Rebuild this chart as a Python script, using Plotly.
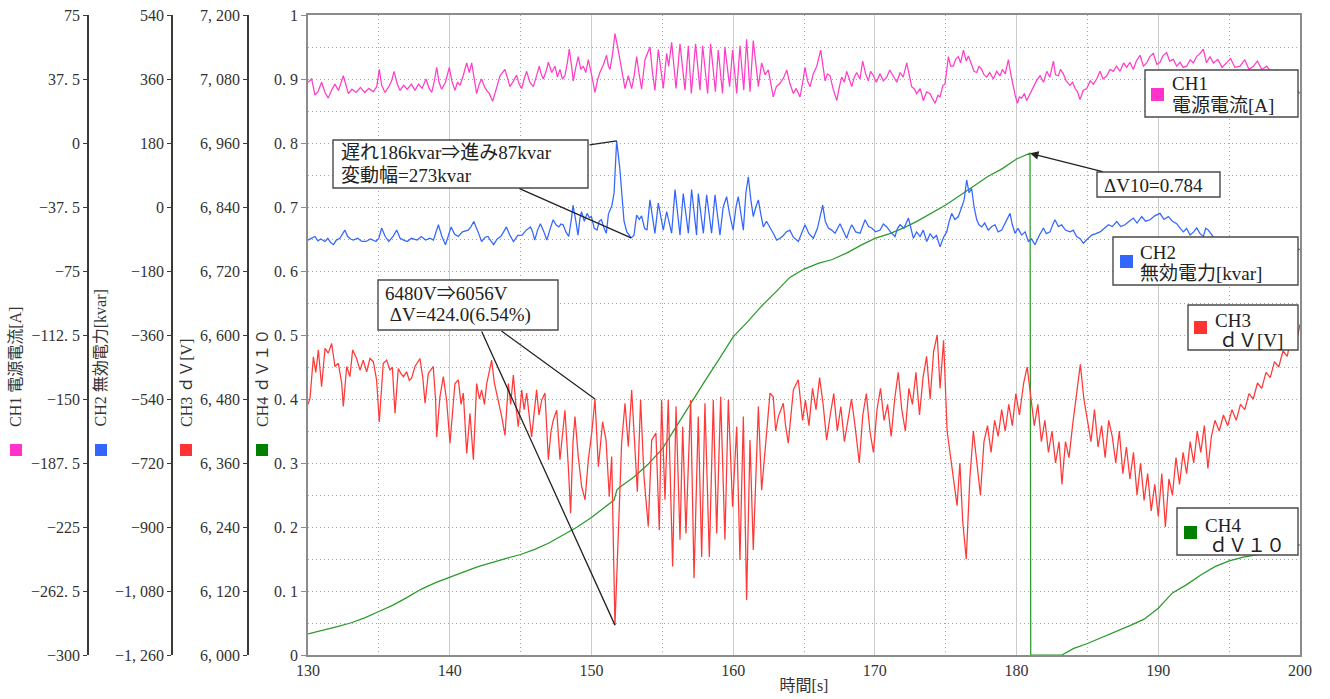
import plotly.graph_objects as go

# ---------------- data ----------------
# CH1 電源電流 [A]  (time s, value)
ch1 = [
(130.0,35.6),(130.26,37.5),(130.49,28.1),(130.7,30.0),(130.96,35.6),(131.2,29.6),(131.43,26.3),(131.65,30.8),
(131.9,34.5),(132.15,30.8),(132.49,39.4),(132.7,33.0),(132.85,28.9),(133.1,31.5),(133.4,29.6),(133.7,32.6),
(134.0,29.6),(134.3,32.0),(134.6,30.0),(134.85,33.0),(135.03,43.1),(135.2,33.8),(135.43,29.6),(135.7,33.0),
(135.9,36.4),(136.07,42.0),(136.3,34.5),(136.49,30.8),(136.75,33.8),(137.0,31.5),(137.3,34.5),(137.55,30.8),
(137.8,34.5),(138.05,32.0),(138.33,37.5),(138.55,32.0),(138.73,29.6),(138.9,35.6),(139.08,44.3),(139.25,35.6),
(139.43,31.5),(139.7,35.6),(139.97,44.3),(140.15,36.4),(140.37,30.8),(140.55,35.6),(140.73,33.8),(140.95,39.4),
(141.2,46.9),(141.38,41.3),(141.55,46.9),(141.9,28.9),(142.08,34.5),(142.25,37.5),(142.45,33.0),(142.61,30.8),
(142.8,28.9),(143.03,24.4),(143.3,33.0),(143.55,39.4),(143.9,43.1),(144.1,37.5),(144.25,33.0),(144.5,36.4),
(144.72,39.8),(144.9,34.5),(145.08,31.9),(145.25,37.5),(145.43,42.0),(145.65,35.6),(145.9,33.0),(146.1,38.6),
(146.32,45.0),(146.45,40.5),(146.6,37.5),(146.8,42.0),(146.96,47.3),(147.2,41.3),(147.43,45.0),(147.6,38.6),
(147.78,43.1),(147.95,37.5),(148.13,39.4),(148.3,47.0),(148.44,55.1),(148.6,45.0),(148.72,36.4),(148.9,44.3),
(149.07,50.6),(149.25,43.1),(149.43,45.0),(149.6,41.3),(149.78,48.8),(150.0,40.5),(150.25,29.6),(150.45,37.5),
(150.6,41.3),(150.85,46.0),(151.07,51.4),(151.2,45.0),(151.31,43.1),(151.5,52.5),(151.66,64.1),(151.85,56.3),
(152.01,48.8),(152.2,40.5),(152.37,31.9),(152.6,39.4),(152.84,31.9),(153.0,38.6),(153.19,50.6),(153.35,41.3),
(153.54,31.5),(153.78,48.8),(154.13,56.3),(154.3,42.0),(154.48,30.8),(154.72,54.8),(154.9,41.3),(155.07,32.0),
(155.31,52.5),(155.45,45.0),(155.66,59.0),(155.97,32.0),(156.25,58.1),(156.6,31.0),(156.84,57.0),(157.05,29.0),
(157.35,58.1),(157.66,31.0),(157.85,57.0),(158.2,29.0),(158.41,58.1),(158.75,30.0),(158.95,54.4),(159.25,29.0),
(159.42,56.3),(159.75,33.0),(159.96,54.4),(160.25,29.0),(160.48,57.0),(160.75,31.0),(160.95,60.8),(161.19,30.0),
(161.42,60.0),(161.78,33.0),(162.01,46.9),(162.25,40.0),(162.48,42.8),(162.83,27.0),(163.05,33.0),(163.3,35.0),
(163.55,38.0),(163.78,42.8),(164.0,35.0),(164.25,29.0),(164.45,32.0),(164.72,27.0),(164.9,35.0),(165.07,44.3),
(165.25,36.4),(165.43,33.0),(165.65,40.5),(165.9,45.0),(166.18,54.4),(166.35,44.3),(166.49,36.4),(166.65,40.5),
(166.84,39.4),(167.05,31.9),(167.31,24.8),(167.5,33.0),(167.66,38.6),(167.85,35.6),(168.01,42.0),(168.2,37.5),
(168.37,33.0),(168.55,38.6),(168.72,41.3),(168.95,37.5),(169.14,48.0),(169.35,40.5),(169.54,36.4),(169.7,42.0),
(169.9,39.4),(170.1,35.6),(170.37,40.5),(170.6,36.4),(170.84,38.6),(171.05,42.8),(171.31,39.4),(171.55,35.6),
(171.78,41.3),(172.0,38.6),(172.25,46.9),(172.45,37.5),(172.6,33.0),(172.8,31.5),(172.95,28.9),(173.2,31.9),
(173.42,24.8),(173.65,30.0),(173.89,28.9),(174.05,26.3),(174.25,23.3),(174.45,28.0),(174.6,27.0),(174.8,33.8),
(174.95,34.5),(175.19,50.6),(175.35,45.0),(175.54,45.0),(175.7,49.0),(175.89,50.6),(176.05,47.0),(176.25,54.4),
(176.45,48.0),(176.6,51.0),(176.83,46.0),(177.0,42.0),(177.19,41.3),(177.35,45.0),(177.54,43.1),(177.7,40.0),
(177.89,38.6),(178.1,41.3),(178.36,37.5),(178.6,42.0),(178.83,39.4),(179.0,43.1),(179.2,40.5),(179.42,48.8),
(179.6,40.0),(179.77,31.9),(179.9,28.0),(180.06,23.3),(180.2,27.0),(180.36,26.3),(180.55,29.0),(180.71,24.8),
(180.9,28.0),(181.19,31.9),(181.4,36.4),(181.66,39.4),(181.9,35.6),(182.13,42.0),(182.35,38.6),(182.6,48.0),
(182.75,40.0),(182.95,39.4),(183.1,43.1),(183.3,40.5),(183.5,36.4),(183.77,33.8),(183.95,35.6),(184.13,31.9),
(184.3,30.0),(184.48,25.5),(184.7,30.8),(184.95,31.9),(185.2,36.4),(185.42,34.5),(185.65,37.5),(185.89,42.0),
(186.1,37.5),(186.36,39.4),(186.6,43.1),(186.83,42.0),(187.05,45.0),(187.3,42.0),(187.55,46.9),(187.77,44.3),
(188.0,47.3),(188.24,43.1),(188.45,48.0),(188.71,51.4),(188.95,45.0),(189.18,46.9),(189.4,50.6),(189.65,52.5),
(189.9,46.0),(190.12,47.3),(190.35,51.4),(190.59,53.0),(190.8,48.0),(191.06,49.0),(191.3,45.0),(191.53,47.3),
(191.75,44.3),(192.0,45.0),(192.25,48.8),(192.47,46.9),(192.7,50.6),(192.95,52.5),(193.18,55.0),(193.4,47.0),
(193.65,50.6),(193.89,46.9),(194.2,49.0),(194.5,44.3),(194.83,46.9),(195.1,49.5),(195.4,44.3),(195.77,45.0),
(196.1,48.8),(196.4,43.1),(196.71,45.0),(197.0,48.0),(197.3,43.1),(197.65,45.0),(198.0,41.3),(198.4,42.8),
(198.8,38.6),(199.2,36.4),(199.6,33.0),(200.0,29.0),
]

# CH2 無効電力 [kvar]
ch2 = [
(130.0,-93),(130.2,-88),(130.49,-83),(130.7,-95),(130.9,-90),(131.2,-97),(131.4,-88),(131.6,-100),(131.8,-106),
(132.0,-93),(132.25,-88),(132.6,-65),(132.8,-83),(133.0,-90),(133.2,-93),(133.5,-88),(133.8,-97),(134.1,-97),
(134.4,-90),(134.8,-97),(135.0,-88),(135.2,-59),(135.45,-83),(135.7,-97),(136.0,-83),(136.26,-65),(136.5,-88),
(136.75,-93),(137.0,-97),(137.3,-88),(137.7,-93),(138.0,-83),(138.3,-93),(138.6,-88),(138.85,-93),(139.2,-50),
(139.45,-83),(139.7,-106),(139.9,-80),(140.1,-56),(140.35,-77),(140.6,-83),(140.9,-70),(141.3,-65),(141.5,-55),
(141.7,-41),(142.0,-70),(142.25,-97),(142.5,-85),(142.7,-83),(142.9,-95),(143.1,-106),(143.35,-90),(143.6,-83),
(143.8,-70),(144.0,-56),(144.25,-80),(144.5,-97),(144.8,-80),(145.1,-79),(145.4,-65),(145.7,-56),(145.85,-70),
(146.0,-93),(146.2,-65),(146.4,-47),(146.65,-70),(146.85,-93),(147.1,-60),(147.3,-36),(147.5,-50),(147.7,-56),
(147.85,-48),(148.0,-50),(148.2,-70),(148.4,-83),(148.6,-30),(148.7,5),(148.9,-40),(149.05,-79),(149.2,-30),
(149.3,-13),(149.5,-40),(149.7,-18),(149.85,-30),(150.0,-27),(150.2,-60),(150.4,-65),(150.55,-40),(150.7,-36),
(150.9,-60),(151.05,-74),(151.2,-20),(151.3,-9),(151.45,5),(151.6,40),(151.78,186),(152.0,110),(152.13,38),
(152.3,-40),(152.5,-70),(152.8,-87),(153.0,-80),(153.19,-23),(153.38,-35),(153.54,-25),(153.75,-60),(153.92,-65),
(154.13,20),(154.3,-20),(154.48,-74),(154.72,11),(154.9,-30),(155.07,-65),(155.31,-13),(155.5,-50),(155.66,-74),
(155.9,49),(156.1,-20),(156.25,-79),(156.48,38),(156.68,-20),(156.84,-74),(157.07,49),(157.25,-10),(157.42,-79),
(157.54,38),(157.7,-20),(157.9,-74),(158.13,34),(158.3,-20),(158.48,-74),(158.72,34),(158.9,-20),(159.07,-79),
(159.3,0),(159.54,29),(159.75,-20),(160.0,-65),(160.2,0),(160.36,29),(160.55,-20),(160.72,-65),(160.9,40),
(161.07,85),(161.25,20),(161.42,-27),(161.6,0),(161.78,20),(161.95,-20),(162.13,-56),(162.35,-40),(162.6,-56),
(162.85,-75),(163.07,-93),(163.31,-88),(163.54,-80),(163.75,-70),(164.0,-65),(164.25,-85),(164.6,-97),(164.85,-70),
(165.07,-50),(165.35,-75),(165.66,-88),(165.95,-60),(166.32,5),(166.5,-40),(166.72,-59),(166.95,-65),(167.19,-74),
(167.54,-47),(167.8,-70),(168.01,-88),(168.2,-65),(168.37,-50),(168.65,-70),(168.96,-74),(169.31,-36),(169.55,-55),
(169.78,-59),(170.05,-70),(170.37,-65),(170.6,-48),(170.84,-56),(171.1,-70),(171.42,-83),(171.6,-60),(171.78,-50),
(172.05,-60),(172.37,-31),(172.55,-60),(172.72,-88),(172.95,-70),(173.19,-83),(173.42,-65),(173.66,-97),(173.9,-75),
(174.13,-88),(174.35,-80),(174.6,-112),(174.85,-85),(175.07,-70),(175.25,-40),(175.42,-18),(175.65,-35),(175.89,-27),
(176.13,0),(176.3,20),(176.48,76),(176.65,40),(176.83,52),(177.0,0),(177.19,-36),(177.35,-50),(177.54,-56),
(177.75,-45),(178.0,-65),(178.25,-55),(178.48,-50),(178.7,-70),(178.95,-65),(179.25,-40),(179.54,-18),(179.7,-50),
(179.89,-74),(180.1,-60),(180.36,-79),(180.6,-70),(180.83,-97),(181.05,-90),(181.3,-106),(181.6,-80),(181.89,-59),
(182.1,-75),(182.36,-70),(182.55,-50),(182.71,-36),(182.95,-55),(183.18,-50),(183.45,-65),(183.77,-70),(184.0,-65),
(184.24,-83),(184.5,-90),(184.71,-102),(185.0,-90),(185.3,-79),(185.6,-75),(185.89,-70),(186.2,-60),(186.48,-50),
(186.75,-55),(187.07,-41),(187.35,-55),(187.65,-50),(187.95,-40),(188.24,-31),(188.5,-45),(188.83,-27),(189.1,-40),
(189.42,-36),(189.75,-25),(190.12,-18),(190.4,-35),(190.71,-27),(191.0,-40),(191.3,-47),(191.55,-60),(191.77,-70),
(192.0,-60),(192.24,-79),(192.5,-70),(192.71,-59),(192.95,-75),(193.18,-83),(193.35,-60),(193.53,-65),(193.9,-85),
(194.3,-95),(194.8,-88),(195.3,-100),(195.8,-92),(196.3,-104),(196.8,-95),(197.3,-100),(197.8,-92),(198.3,-102),
(198.8,-96),(199.3,-110),(200.0,-120),
]

# CH3 dV [V]
ch3 = [
(130.0,6470),(130.14,6481),(130.38,6559),(130.55,6530),(130.73,6572),(130.96,6503),(131.2,6575),(131.43,6566),
(131.67,6584),(131.9,6541),(132.14,6547),(132.38,6509),(132.49,6466),(132.73,6541),(132.96,6522),(133.15,6572),
(133.43,6556),(133.67,6534),(133.9,6553),(134.14,6531),(134.37,6556),(134.61,6550),(134.84,6516),(135.03,6437),
(135.31,6547),(135.55,6553),(135.79,6534),(135.95,6540),(136.14,6453),(136.37,6537),(136.55,6528),(136.73,6522),
(136.96,6531),(137.15,6515),(137.31,6519),(137.55,6541),(137.9,6556),(138.1,6520),(138.26,6472),(138.49,6528),
(138.84,6541),(139.0,6480),(139.08,6409),(139.31,6484),(139.55,6522),(139.78,6478),(140.02,6397),(140.2,6460),
(140.37,6509),(140.61,6516),(140.8,6470),(140.96,6491),(141.2,6378),(141.43,6453),(141.67,6366),(141.9,6509),
(142.1,6480),(142.25,6497),(142.45,6470),(142.61,6509),(142.96,6553),(143.15,6510),(143.31,6491),(143.5,6470),
(143.67,6447),(143.9,6412),(144.14,6509),(144.3,6470),(144.49,6525),(144.7,6460),(144.84,6428),(145.08,6497),
(145.25,6460),(145.43,6491),(145.6,6450),(145.78,6409),(146.13,6497),(146.3,6450),(146.49,6478),(146.72,6491),
(146.96,6366),(147.15,6420),(147.31,6441),(147.55,6459),(147.78,6366),(148.13,6459),(148.37,6353),(148.53,6266),
(148.7,6400),(148.84,6447),(149.07,6372),(149.31,6316),(149.55,6291),(149.78,6366),(150.02,6416),(150.25,6480),
(150.49,6353),(150.79,6437),(151.03,6403),(151.26,6297),(151.43,6372),(151.66,6056),(151.9,6228),(152.13,6397),
(152.37,6472),(152.6,6391),(152.84,6497),(153.07,6384),(153.24,6306),(153.47,6478),(153.71,6334),(154.01,6241),
(154.25,6403),(154.55,6416),(154.79,6234),(154.95,6478),(155.19,6291),(155.42,6478),(155.73,6166),(155.97,6466),
(156.25,6216),(156.44,6428),(156.67,6228),(157.0,6478),(157.24,6144),(157.54,6447),(157.78,6184),(158.01,6472),
(158.32,6184),(158.6,6478),(158.84,6228),(159.12,6484),(159.42,6216),(159.66,6478),(159.96,6278),(160.25,6428),
(160.48,6178),(160.72,6447),(160.95,6103),(161.19,6403),(161.42,6197),(161.78,6466),(162.01,6309),(162.36,6416),
(162.6,6491),(162.83,6484),(163.0,6420),(163.19,6447),(163.54,6472),(163.7,6430),(163.89,6397),(164.25,6497),
(164.6,6516),(164.9,6440),(165.1,6478),(165.35,6430),(165.6,6500),(165.85,6460),(166.1,6520),(166.35,6470),
(166.6,6403),(166.85,6450),(167.1,6490),(167.35,6420),(167.6,6466),(167.85,6400),(168.1,6440),(168.35,6480),
(168.6,6430),(168.9,6360),(169.15,6450),(169.4,6490),(169.65,6420),(169.9,6380),(170.15,6460),(170.4,6500),
(170.65,6440),(170.9,6470),(171.15,6410),(171.4,6480),(171.65,6530),(171.9,6460),(172.15,6420),(172.4,6500),
(172.65,6470),(172.9,6530),(173.15,6450),(173.4,6520),(173.65,6560),(173.9,6480),(174.15,6570),(174.4,6600),
(174.6,6500),(174.85,6590),(175.1,6420),(175.3,6380),(175.55,6340),(175.8,6280),(176.0,6360),(176.2,6250),
(176.45,6180),(176.7,6330),(176.95,6420),(177.2,6360),(177.45,6300),(177.7,6400),(177.95,6430),(178.2,6380),
(178.45,6440),(178.7,6410),(178.95,6460),(179.2,6420),(179.45,6470),(179.7,6430),(179.95,6490),(180.2,6450),
(180.5,6510),(180.75,6540),(181.0,6480),(181.25,6430),(181.5,6470),(181.75,6400),(182.0,6440),(182.25,6380),
(182.5,6420),(182.75,6360),(183.0,6400),(183.2,6320),(183.45,6400),(183.7,6370),(183.95,6430),(184.2,6480),
(184.5,6545),(184.75,6480),(185.0,6440),(185.25,6400),(185.5,6460),(185.75,6390),(186.0,6430),(186.25,6370),
(186.5,6440),(186.75,6410),(187.0,6360),(187.25,6420),(187.5,6340),(187.75,6390),(188.0,6330),(188.25,6380),
(188.5,6300),(188.75,6360),(189.0,6290),(189.25,6340),(189.5,6270),(189.75,6320),(190.0,6260),(190.25,6340),
(190.5,6240),(190.75,6330),(191.0,6300),(191.25,6370),(191.5,6320),(191.75,6380),(192.0,6340),(192.25,6400),
(192.5,6360),(192.75,6420),(193.0,6380),(193.25,6430),(193.5,6350),(193.75,6410),(194.0,6440),(194.3,6420),
(194.6,6450),(194.9,6430),(195.2,6460),(195.5,6440),(195.8,6470),(196.1,6460),(196.4,6490),(196.7,6480),
(197.0,6510),(197.3,6500),(197.6,6530),(197.9,6520),(198.2,6550),(198.5,6540),(198.8,6570),(199.1,6560),
(199.4,6600),(199.7,6580),(200.0,6620),
]

# CH4 dV10
ch4 = [
(130,0.033),(131,0.038),(132,0.044),(133,0.05),(134,0.058),(135,0.068),(136,0.078),(137,0.09),(138,0.103),
(139,0.113),(140,0.122),(141,0.13),(142,0.138),(143,0.145),(144,0.151),(145,0.157),(146,0.165),(147,0.175),
(148,0.187),(149,0.2),(150,0.215),(151,0.232),(151.6,0.242),(151.8,0.258),(152,0.262),(153,0.278),(154,0.298),
(155,0.322),(156,0.358),(157,0.393),(158,0.428),(159,0.462),(160,0.497),(161,0.52),(162,0.545),(163,0.567),
(164,0.59),(165,0.603),(166,0.612),(167,0.618),(168,0.628),(169,0.64),(170,0.651),(171,0.658),(172,0.667),
(173,0.678),(174,0.69),(175,0.703),(176,0.718),(177,0.733),(178,0.748),(179,0.76),(180,0.775),(180.95,0.784),
(181.0,0.0),(183.2,0.0),(184,0.01),(185,0.018),(186,0.027),(187,0.036),(188,0.046),(189,0.056),(190,0.073),
(191,0.097),(192,0.11),(193,0.125),(194,0.138),(195,0.147),(196,0.153),(197,0.157),(198,0.162),(199,0.167),
(200,0.172),
]

x_ticks = [130, 140, 150, 160, 170, 180, 190, 200]
ch1_ticks = [-300, -262.5, -225, -187.5, -150, -112.5, -75, -37.5, 0, 37.5, 75]
ch1_labels = ["−300", "−262. 5", "−225", "−187. 5", "−150", "−112. 5", "−75", "−37. 5", "0", "37. 5", "75"]
ch2_ticks = [-1260, -1080, -900, -720, -540, -360, -180, 0, 180, 360, 540]
ch2_labels = ["−1, 260", "−1, 080", "−900", "−720", "−540", "−360", "−180", "0", "180", "360", "540"]
ch3_ticks = [6000, 6120, 6240, 6360, 6480, 6600, 6720, 6840, 6960, 7080, 7200]
ch3_labels = ["6, 000", "6, 120", "6, 240", "6, 360", "6, 480", "6, 600", "6, 720", "6, 840", "6, 960", "7, 080", "7, 200"]
ch4_ticks = [0, 0.1, 0.2, 0.3, 0.4, 0.5, 0.6, 0.7, 0.8, 0.9, 1]
ch4_labels = ["0", "0. 1", "0. 2", "0. 3", "0. 4", "0. 5", "0. 6", "0. 7", "0. 8", "0. 9", "1"]

names = ["CH1", "CH2", "CH3", "CH4"]
units = ["電源電流[A]", "無効電力[kvar]", "ｄＶ[V]", "ｄＶ１０"]

# ---------------- styling / geometry ----------------
W, H = 1330, 699
ML, MR, MT, MB = 10, 30, 15, 44
PW, PH = W - ML - MR, H - MT - MB
X0PX = 308  # left edge of plot area in px
RANGES = {"y": (0, 1), "y2": (-300, 75), "y3": (-1260, 540), "y4": (6000, 7200)}
XR = (130, 200)

PINK, BLUE, RED, GREEN = "#FF3DC8", "#3366FF", "#FF3838", "#2B9A2B"
SQ = ["#FF33CC", "#3366FF", "#FF3333", "#007F00"]
FONT = "Liberation Serif, Noto Sans CJK JP, serif"
TXT = "#222222"
DOT = "1px,3px"
GRIDC = "#a8a8a8"


def pxx(p):
    return (p - ML) / PW


def pxy(p):
    return (H - MB - p) / PH


def t_of_px(p):
    return XR[0] + (p - X0PX) / (W - MR - X0PX) * (XR[1] - XR[0])


def v_of_px(p, ax):
    lo, hi = RANGES[ax]
    return lo + (H - MB - p) / PH * (hi - lo)


fig = go.Figure()
series = [(ch4, "y", GREEN, "CH4"), (ch1, "y2", PINK, "CH1"), (ch2, "y3", BLUE, "CH2"), (ch3, "y4", RED, "CH3")]
for data, ax, col, nm in series:
    t, v = zip(*data)
    fig.add_trace(go.Scatter(x=list(t), y=list(v), yaxis=ax, xaxis="x", mode="lines", name=nm,
                             line=dict(color=col, width=1.25), hoverinfo="x+y"))

tickfont = dict(family=FONT, size=16, color="#333333")
free_axis = dict(anchor="free", overlaying="y", side="left", showgrid=False, zeroline=False,
                 showline=True, linecolor="#3a3a3a", linewidth=1.6, ticks="outside", ticklen=4,
                 tickcolor="#3a3a3a", tickfont=tickfont, tickmode="array", automargin=False)

fig.update_layout(
    width=W, height=H,
    margin=dict(l=ML, r=MR, t=MT, b=MB, autoexpand=False),
    paper_bgcolor="white", plot_bgcolor="white",
    showlegend=False,
    font=dict(family=FONT, color=TXT),
    xaxis=dict(domain=[pxx(X0PX), 1], range=list(XR), tickmode="array", tickvals=x_ticks,
               ticktext=[str(v) for v in x_ticks], tickfont=tickfont, ticks="",
               showgrid=True, gridcolor="#cccccc", gridwidth=1,
               minor=dict(tickmode="linear", tick0=135, dtick=10, showgrid=True,
                          gridcolor=GRIDC, griddash=DOT, gridwidth=1),
               showline=True, mirror=True, linecolor="#8c8c8c", linewidth=1.6, zeroline=False,
               title=dict(text="時間[s]", font=dict(family=FONT, size=16, color="#333333"), standoff=2),
               automargin=False),
    yaxis=dict(range=list(RANGES["y"]), tickmode="array", tickvals=ch4_ticks, ticktext=ch4_labels,
               tickfont=tickfont, ticks="outside", ticklen=5, tickcolor="#8c8c8c",
               showgrid=True, gridcolor=GRIDC, griddash=DOT, gridwidth=1,
               minor=dict(tickmode="linear", tick0=0.05, dtick=0.1, showgrid=True,
                          gridcolor=GRIDC, griddash=DOT, gridwidth=1),
               showline=True, mirror=True, linecolor="#8c8c8c", linewidth=1.6, zeroline=False,
               automargin=False),
    yaxis2=dict(free_axis, range=list(RANGES["y2"]), tickvals=ch1_ticks, ticktext=ch1_labels, position=pxx(88)),
    yaxis3=dict(free_axis, range=list(RANGES["y3"]), tickvals=ch2_ticks, ticktext=ch2_labels, position=pxx(172)),
    yaxis4=dict(free_axis, range=list(RANGES["y4"]), tickvals=ch3_ticks, ticktext=ch3_labels, position=pxx(248)),
)

shapes = []
annotations = []


def box(x0, y0, x1, y1):
    shapes.append(dict(type="rect", xref="paper", yref="paper", x0=pxx(x0), x1=pxx(x1),
                       y0=pxy(y1), y1=pxy(y0), fillcolor="white", line=dict(color="#4a4a4a", width=1.4),
                       layer="above"))


def square(x0, y0, x1, y1, col):
    shapes.append(dict(type="rect", xref="paper", yref="paper", x0=pxx(x0), x1=pxx(x1),
                       y0=pxy(y1), y1=pxy(y0), fillcolor=col, line=dict(width=0), layer="above"))


def text(xp, yp, s, size=19, anchor="left"):
    annotations.append(dict(xref="paper", yref="paper", x=pxx(xp), y=pxy(yp), text=s, showarrow=False,
                            xanchor=anchor, yanchor="middle", font=dict(family=FONT, size=size, color=TXT)))


def leader(tip_t, tip_v, ax, tail_px, tail_py, head=0):
    annotations.append(dict(x=tip_t, y=tip_v, xref="x", yref=ax, axref="x", ayref=ax,
                            ax=t_of_px(tail_px), ay=v_of_px(tail_py, ax), text="", showarrow=True,
                            arrowhead=head, arrowsize=1.3, arrowwidth=1.3, arrowcolor="#222222",
                            standoff=0, startstandoff=0))


# left axis titles and colour keys
title_x = [15, 100, 186, 262]
sq_x = [10, 95, 180, 256]
for nm, un, tx, sx, col in zip(names, units, title_x, sq_x, SQ):
    annotations.append(dict(xref="paper", yref="paper", x=pxx(tx), y=pxy(429), text=f"{nm} {un}",
                            textangle=-90, showarrow=False, xanchor="center", yanchor="bottom",
                            font=dict(family=FONT, size=16, color="#333333")))
    square(sx, 444, sx + 12, 456, col)

# leader lines (tips located on the data)
t2, v2 = zip(*ch2)
i_pk = max(range(len(v2)), key=lambda i: v2[i])
i_tr = min((i for i in range(len(t2)) if t2[i_pk] < t2[i] < t2[i_pk] + 1.5), key=lambda i: v2[i])
leader(t2[i_pk], v2[i_pk], "y3", 588, 145)
leader(t2[i_tr], v2[i_tr], "y3", 518, 188)

t3, v3 = zip(*ch3)
i_mn = min(range(len(v3)), key=lambda i: v3[i])
i_pre = max((i for i in range(len(t3)) if t3[i_mn] - 1.6 < t3[i] < t3[i_mn] - 1.0), key=lambda i: v3[i])
leader(t3[i_mn], v3[i_mn], "y4", 481, 330)
leader(t3[i_pre], v3[i_pre], "y4", 500, 330)

t4, v4 = zip(*ch4)
i_g = max(range(len(v4)), key=lambda i: v4[i])
leader(t4[i_g], v4[i_g], "y", 1104, 172, head=2)

# annotation boxes
box(333, 140, 588, 188)
text(339, 153, "遅れ186kvar⇒進み87kvar")
text(339, 175, "変動幅=273kvar")

box(378, 280, 558, 330)
text(383, 293, "6480V⇒6056V")
text(383, 315, "\u00a0ΔV=424.0(6.54%)")

box(1097, 172, 1220, 197)
text(1102, 185, "ΔV10=0.784")

# channel legend boxes
legend = [
    ((1145, 70, 1298, 117), (1151, 88), (1170, 84, 105), 0),
    ((1113, 237, 1298, 285), (1120, 255), (1138, 252, 273), 0),
    ((1188, 305, 1298, 350), (1194, 321), (1213, 320, 340), 4),
    ((1177, 508, 1298, 555), (1184, 526), (1203, 525, 545), 4),
]
for (b, s, tpos, ind), nm, un, col in zip(legend, names, units, SQ):
    box(*b)
    square(s[0], s[1], s[0] + 13, s[1] + 13, col)
    text(tpos[0], tpos[1], nm)
    text(tpos[0] + ind, tpos[2], un)

fig.update_layout(shapes=shapes, annotations=annotations)

fig.write_html("out.html", config={"displayModeBar": False},
               post_script="document.body.style.margin='0';")
